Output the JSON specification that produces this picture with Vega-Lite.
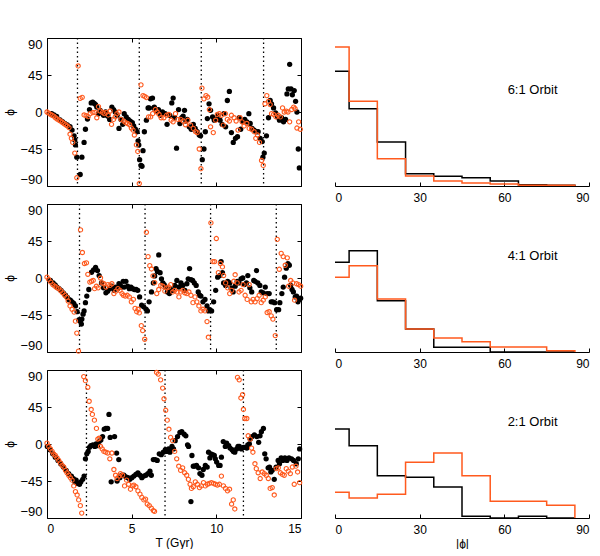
{
  "$schema": "https://vega.github.io/schema/vega-lite/v6.json",
  "padding": {"left": 3, "top": 36, "right": 0, "bottom": 0},
  "background": "white",
  "bounds": "flush",
  "columns": 2,
  "spacing": {"row": 18, "column": 34},
  "config": {
    "font": "Liberation Sans",
    "view": {"stroke": "black", "strokeWidth": 1},
    "axis": {"labelFont": "Liberation Sans", "titleFont": "Liberation Sans", "labelFontSize": 12, "titleFontSize": 12, "titleFontWeight": "normal", "labelColor": "black", "titleColor": "black", "tickColor": "black", "domainColor": "black", "grid": false},
    "axisY": {"labelFontSize": 13}
  },
  "datasets": {
    "p1b": [{"t":0.28,"v":-2},{"t":0.41,"v":-3.6},{"t":0.57,"v":-5.3},{"t":0.77,"v":-9.7},{"t":0.91,"v":-11.8},{"t":1.05,"v":-13.8},{"t":1.2,"v":-15.8},{"t":1.36,"v":-17.8},{"t":1.48,"v":-22},{"t":1.6,"v":-29},{"t":1.64,"v":-34},{"t":1.68,"v":-40},{"t":1.76,"v":-55},{"t":1.96,"v":-76},{"t":2.06,"v":-55},{"t":2.19,"v":-37},{"t":2.27,"v":-21},{"t":2.39,"v":-8.5},{"t":2.51,"v":3},{"t":2.61,"v":11},{"t":2.7,"v":12},{"t":2.79,"v":10.5},{"t":2.87,"v":9},{"t":2.94,"v":6},{"t":3.04,"v":-2},{"t":3.14,"v":2},{"t":3.24,"v":-1},{"t":3.34,"v":-4},{"t":3.46,"v":0},{"t":3.58,"v":-5},{"t":3.7,"v":-9},{"t":3.83,"v":6},{"t":3.93,"v":3},{"t":4.03,"v":0},{"t":4.14,"v":-4},{"t":4.25,"v":-20},{"t":4.37,"v":-9},{"t":4.47,"v":-15},{"t":4.56,"v":-2},{"t":4.68,"v":-6},{"t":4.8,"v":-9},{"t":4.92,"v":-11},{"t":5.04,"v":-13},{"t":5.12,"v":-17},{"t":5.22,"v":-21},{"t":5.32,"v":-24},{"t":5.38,"v":-35},{"t":5.42,"v":-40},{"t":5.47,"v":-58},{"t":5.55,"v":-65},{"t":5.61,"v":-66},{"t":5.67,"v":-47},{"t":5.75,"v":-24},{"t":5.87,"v":-10},{"t":5.97,"v":5},{"t":6.03,"v":5},{"t":6.11,"v":16},{"t":6.23,"v":17},{"t":6.3,"v":5},{"t":6.34,"v":6},{"t":6.46,"v":1},{"t":6.58,"v":3},{"t":6.7,"v":-4},{"t":6.82,"v":0},{"t":6.98,"v":-2},{"t":7.09,"v":-15},{"t":7.25,"v":-4},{"t":7.37,"v":11},{"t":7.45,"v":17},{"t":7.53,"v":-7},{"t":7.65,"v":-44},{"t":7.77,"v":3},{"t":7.85,"v":-14},{"t":7.96,"v":-7},{"t":8.04,"v":-5},{"t":8.12,"v":2},{"t":8.2,"v":-11},{"t":8.28,"v":-9},{"t":8.4,"v":-18},{"t":8.52,"v":-21},{"t":8.64,"v":-15},{"t":8.75,"v":-20},{"t":8.87,"v":-24},{"t":8.99,"v":-28},{"t":9.07,"v":-29},{"t":9.17,"v":-58},{"t":9.27,"v":-45},{"t":9.35,"v":-24},{"t":9.47,"v":-8},{"t":9.57,"v":10},{"t":9.66,"v":2},{"t":9.78,"v":-6},{"t":9.88,"v":-10},{"t":10.02,"v":-9},{"t":10.1,"v":-4},{"t":10.22,"v":-10},{"t":10.34,"v":-15},{"t":10.45,"v":-2},{"t":10.55,"v":-18},{"t":10.65,"v":14},{"t":10.77,"v":25},{"t":10.89,"v":-25},{"t":11.0,"v":-37},{"t":11.13,"v":-32},{"t":11.25,"v":-30},{"t":11.36,"v":-7},{"t":11.44,"v":-21},{"t":11.56,"v":-12},{"t":11.68,"v":-9},{"t":11.8,"v":-12},{"t":11.92,"v":-2},{"t":12.0,"v":-14},{"t":12.11,"v":-20},{"t":12.23,"v":-22},{"t":12.35,"v":-24},{"t":12.47,"v":-24},{"t":12.59,"v":-32},{"t":12.71,"v":-36},{"t":12.75,"v":-55},{"t":12.83,"v":-50},{"t":12.96,"v":-29},{"t":13.08,"v":-7},{"t":13.18,"v":14},{"t":13.26,"v":10},{"t":13.38,"v":5},{"t":13.5,"v":-1},{"t":13.62,"v":-6},{"t":13.73,"v":-10},{"t":13.85,"v":-7},{"t":13.97,"v":-12},{"t":14.09,"v":-9},{"t":14.17,"v":22},{"t":14.25,"v":28},{"t":14.33,"v":58},{"t":14.41,"v":28},{"t":14.49,"v":21},{"t":14.6,"v":26},{"t":14.68,"v":13},{"t":14.76,"v":0},{"t":14.84,"v":-45},{"t":14.9,"v":-68}],
    "p1o": [{"t":0.0,"v":0},{"t":0.1,"v":-1.5},{"t":0.2,"v":-2.8},{"t":0.3,"v":-4},{"t":0.4,"v":-5},{"t":0.5,"v":-7},{"t":0.6,"v":-8.5},{"t":0.7,"v":-10},{"t":0.8,"v":-11},{"t":0.9,"v":-12.5},{"t":1.0,"v":-14},{"t":1.1,"v":-15.5},{"t":1.2,"v":-17},{"t":1.3,"v":-19},{"t":1.36,"v":-27},{"t":1.44,"v":-32},{"t":1.52,"v":-37},{"t":1.64,"v":-50},{"t":1.76,"v":-80},{"t":1.84,"v":56},{"t":1.96,"v":16.6},{"t":2.08,"v":17.8},{"t":2.19,"v":-3.6},{"t":2.31,"v":-4.5},{"t":2.43,"v":-5.7},{"t":2.55,"v":-2},{"t":2.71,"v":-0.8},{"t":2.83,"v":-0.4},{"t":2.94,"v":-7},{"t":3.04,"v":6.5},{"t":3.14,"v":1.2},{"t":3.28,"v":-0.4},{"t":3.38,"v":-2},{"t":3.5,"v":-0.4},{"t":3.62,"v":-3.6},{"t":3.73,"v":1.2},{"t":3.81,"v":-15},{"t":3.93,"v":-9},{"t":4.03,"v":-6},{"t":4.13,"v":-2},{"t":4.25,"v":0},{"t":4.37,"v":-9},{"t":4.53,"v":-11},{"t":4.64,"v":-13},{"t":4.76,"v":-14},{"t":4.88,"v":-15.5},{"t":4.98,"v":-19.5},{"t":5.08,"v":-22},{"t":5.16,"v":-28},{"t":5.28,"v":-40},{"t":5.36,"v":-48},{"t":5.45,"v":-87},{"t":5.55,"v":33},{"t":5.67,"v":20},{"t":5.77,"v":19},{"t":5.87,"v":17.5},{"t":6.0,"v":-6},{"t":6.12,"v":-6},{"t":6.24,"v":-2},{"t":6.4,"v":3},{"t":6.5,"v":0},{"t":6.62,"v":-3},{"t":6.74,"v":-7},{"t":6.9,"v":-7},{"t":7.06,"v":-4},{"t":7.19,"v":-3},{"t":7.33,"v":-10},{"t":7.45,"v":-12},{"t":7.59,"v":-2},{"t":7.73,"v":-9},{"t":7.89,"v":-9},{"t":8.04,"v":-11},{"t":8.18,"v":-15.5},{"t":8.32,"v":-10},{"t":8.48,"v":-16},{"t":8.64,"v":-20},{"t":8.77,"v":-24},{"t":8.87,"v":-25},{"t":8.99,"v":-45},{"t":9.09,"v":-69},{"t":9.15,"v":29},{"t":9.27,"v":16},{"t":9.39,"v":20},{"t":9.49,"v":18},{"t":9.59,"v":3},{"t":9.66,"v":-18},{"t":9.82,"v":-25},{"t":9.96,"v":-10},{"t":10.06,"v":-3},{"t":10.18,"v":-2},{"t":10.3,"v":-4},{"t":10.41,"v":-16},{"t":10.53,"v":-2},{"t":10.65,"v":-9},{"t":10.77,"v":-11},{"t":10.89,"v":-4},{"t":11.05,"v":-7},{"t":11.17,"v":-11},{"t":11.28,"v":-22},{"t":11.4,"v":-7},{"t":11.52,"v":-12},{"t":11.64,"v":-17},{"t":11.8,"v":-14},{"t":11.94,"v":-20},{"t":12.08,"v":-21},{"t":12.23,"v":-24},{"t":12.33,"v":-32},{"t":12.43,"v":-28},{"t":12.55,"v":-37},{"t":12.67,"v":-59},{"t":12.77,"v":-65},{"t":12.87,"v":10},{"t":12.98,"v":20},{"t":13.08,"v":13},{"t":13.18,"v":9},{"t":13.26,"v":-2},{"t":13.38,"v":-3},{"t":13.52,"v":-6},{"t":13.66,"v":-4},{"t":13.78,"v":-6},{"t":13.91,"v":5},{"t":14.01,"v":0},{"t":14.13,"v":1},{"t":14.23,"v":0},{"t":14.33,"v":-12},{"t":14.45,"v":3},{"t":14.57,"v":6},{"t":14.65,"v":4},{"t":14.76,"v":-19.5},{"t":14.86,"v":-12},{"t":14.96,"v":-21}],
    "p2b": [{"t":0.2,"v":-3},{"t":0.36,"v":-6},{"t":0.48,"v":-8.5},{"t":0.59,"v":-11},{"t":0.71,"v":-13},{"t":0.83,"v":-15},{"t":0.96,"v":-18},{"t":1.09,"v":-21},{"t":1.2,"v":-23.5},{"t":1.28,"v":-26},{"t":1.38,"v":-27},{"t":1.48,"v":-29},{"t":1.58,"v":-31},{"t":1.68,"v":-34},{"t":1.78,"v":-41},{"t":1.88,"v":-51},{"t":1.92,"v":-51},{"t":1.98,"v":-53},{"t":2.03,"v":-56},{"t":2.06,"v":-50},{"t":2.13,"v":-44},{"t":2.19,"v":-40},{"t":2.27,"v":-30},{"t":2.35,"v":-22},{"t":2.47,"v":-14},{"t":2.63,"v":7},{"t":2.75,"v":10},{"t":2.87,"v":13},{"t":2.98,"v":9},{"t":3.08,"v":3},{"t":3.22,"v":-6},{"t":3.34,"v":-12},{"t":3.48,"v":-18},{"t":3.58,"v":-16},{"t":3.7,"v":-13},{"t":3.83,"v":-10},{"t":3.97,"v":-15},{"t":4.07,"v":-11},{"t":4.17,"v":-13},{"t":4.25,"v":-7},{"t":4.33,"v":-9},{"t":4.41,"v":-11},{"t":4.5,"v":-4},{"t":4.56,"v":-11},{"t":4.66,"v":-4},{"t":4.76,"v":-10},{"t":4.86,"v":-13},{"t":4.96,"v":-11},{"t":5.06,"v":-13},{"t":5.16,"v":-14},{"t":5.26,"v":-14},{"t":5.36,"v":-15},{"t":5.47,"v":-23},{"t":5.59,"v":-33},{"t":5.71,"v":-35},{"t":5.85,"v":-38},{"t":5.93,"v":-40},{"t":6.03,"v":-29},{"t":6.17,"v":-17},{"t":6.28,"v":-6},{"t":6.36,"v":2.5},{"t":6.44,"v":11.5},{"t":6.52,"v":8},{"t":6.6,"v":28},{"t":6.68,"v":6.5},{"t":6.76,"v":-1},{"t":6.84,"v":-6},{"t":6.92,"v":-8},{"t":7.02,"v":-11},{"t":7.11,"v":-17},{"t":7.23,"v":-19},{"t":7.31,"v":-14},{"t":7.43,"v":-15},{"t":7.55,"v":-9},{"t":7.67,"v":-3},{"t":7.79,"v":-11},{"t":7.91,"v":-6},{"t":8.02,"v":-9},{"t":8.14,"v":-15},{"t":8.26,"v":-7},{"t":8.34,"v":-1},{"t":8.42,"v":11.5},{"t":8.5,"v":-2},{"t":8.6,"v":-3},{"t":8.7,"v":-6},{"t":8.81,"v":-9},{"t":8.93,"v":-17},{"t":9.01,"v":-21},{"t":9.09,"v":-22},{"t":9.21,"v":-29},{"t":9.33,"v":-26},{"t":9.45,"v":-34},{"t":9.53,"v":-40},{"t":9.61,"v":-38.5},{"t":9.72,"v":-40},{"t":9.84,"v":-29},{"t":9.96,"v":-15},{"t":10.08,"v":1},{"t":10.2,"v":3},{"t":10.28,"v":20},{"t":10.36,"v":6.5},{"t":10.43,"v":-6},{"t":10.55,"v":-9},{"t":10.67,"v":-4},{"t":10.79,"v":-6},{"t":10.87,"v":-12},{"t":10.99,"v":-17},{"t":11.11,"v":-10},{"t":11.23,"v":-4},{"t":11.34,"v":-6},{"t":11.46,"v":-1},{"t":11.56,"v":0},{"t":11.66,"v":-8},{"t":11.78,"v":-6},{"t":11.86,"v":3},{"t":11.98,"v":-12},{"t":12.09,"v":-17},{"t":12.21,"v":-3},{"t":12.29,"v":-4},{"t":12.37,"v":9},{"t":12.45,"v":-6},{"t":12.57,"v":-9},{"t":12.65,"v":-17},{"t":12.77,"v":-18},{"t":12.89,"v":-11},{"t":13.0,"v":-19},{"t":13.12,"v":-19},{"t":13.24,"v":-29},{"t":13.34,"v":-29},{"t":13.44,"v":-30},{"t":13.56,"v":-38.5},{"t":13.68,"v":-38.5},{"t":13.75,"v":-30},{"t":13.87,"v":-19},{"t":13.95,"v":-11},{"t":14.03,"v":1},{"t":14.13,"v":12},{"t":14.23,"v":17.6},{"t":14.31,"v":15.5},{"t":14.39,"v":-9},{"t":14.47,"v":-14},{"t":14.55,"v":-17},{"t":14.66,"v":-23},{"t":14.74,"v":-22},{"t":14.82,"v":-29},{"t":14.9,"v":-26},{"t":14.98,"v":-24.5}],
    "p2o": [{"t":0.0,"v":1},{"t":0.1,"v":-1.7},{"t":0.22,"v":-5},{"t":0.34,"v":-8},{"t":0.46,"v":-10},{"t":0.57,"v":-11.7},{"t":0.69,"v":-13},{"t":0.81,"v":-15.5},{"t":0.93,"v":-18},{"t":1.05,"v":-21},{"t":1.17,"v":-23.6},{"t":1.25,"v":-28},{"t":1.36,"v":-34},{"t":1.48,"v":-38},{"t":1.6,"v":-41.5},{"t":1.68,"v":-52.5},{"t":1.76,"v":-67},{"t":1.86,"v":-89},{"t":1.98,"v":58.5},{"t":2.09,"v":31},{"t":2.21,"v":17.6},{"t":2.33,"v":18.4},{"t":2.41,"v":4.5},{"t":2.53,"v":-5},{"t":2.63,"v":-4},{"t":2.73,"v":-3},{"t":2.81,"v":-13},{"t":2.92,"v":-10},{"t":3.02,"v":-12},{"t":3.16,"v":0},{"t":3.26,"v":-6},{"t":3.36,"v":-7},{"t":3.48,"v":-11},{"t":3.6,"v":-8},{"t":3.72,"v":-9},{"t":3.83,"v":-7},{"t":3.95,"v":-19},{"t":4.07,"v":-16},{"t":4.19,"v":-13},{"t":4.31,"v":-15},{"t":4.43,"v":-19},{"t":4.51,"v":-21},{"t":4.62,"v":-22},{"t":4.74,"v":-21},{"t":4.86,"v":-23},{"t":4.98,"v":-29},{"t":5.1,"v":-26},{"t":5.2,"v":-37},{"t":5.3,"v":-41},{"t":5.38,"v":-38},{"t":5.45,"v":-42.5},{"t":5.57,"v":-58},{"t":5.65,"v":-64},{"t":5.77,"v":-74.5},{"t":5.87,"v":55.6},{"t":5.97,"v":26},{"t":6.07,"v":15},{"t":6.17,"v":11},{"t":6.26,"v":2.5},{"t":6.36,"v":-5.7},{"t":6.48,"v":-19},{"t":6.6,"v":-14},{"t":6.72,"v":-9},{"t":6.84,"v":-10},{"t":6.96,"v":-16},{"t":7.08,"v":-12},{"t":7.19,"v":-11},{"t":7.31,"v":-8},{"t":7.43,"v":-17},{"t":7.55,"v":-15},{"t":7.67,"v":-17},{"t":7.79,"v":-23},{"t":7.91,"v":-17},{"t":8.02,"v":-15},{"t":8.14,"v":-18},{"t":8.26,"v":-19},{"t":8.38,"v":-17},{"t":8.5,"v":-21},{"t":8.62,"v":-30},{"t":8.74,"v":-23},{"t":8.85,"v":-29},{"t":8.97,"v":-34},{"t":9.09,"v":-40},{"t":9.21,"v":-38},{"t":9.33,"v":-40},{"t":9.45,"v":-53},{"t":9.53,"v":-72},{"t":9.68,"v":67},{"t":9.8,"v":20},{"t":9.9,"v":20},{"t":10.0,"v":48},{"t":10.12,"v":6.5},{"t":10.24,"v":17.6},{"t":10.36,"v":13.5},{"t":10.43,"v":3},{"t":10.55,"v":-6},{"t":10.67,"v":-12},{"t":10.79,"v":-19},{"t":10.91,"v":-15},{"t":11.03,"v":-4},{"t":11.11,"v":4},{"t":11.23,"v":-6},{"t":11.34,"v":-17},{"t":11.46,"v":-15},{"t":11.58,"v":-8},{"t":11.7,"v":-21},{"t":11.82,"v":-26},{"t":11.94,"v":-8},{"t":12.06,"v":-29},{"t":12.17,"v":-26},{"t":12.29,"v":-29},{"t":12.41,"v":-25},{"t":12.53,"v":-21},{"t":12.65,"v":-30},{"t":12.77,"v":-27},{"t":12.89,"v":-23},{"t":13.0,"v":-42},{"t":13.12,"v":-41},{"t":13.24,"v":-46},{"t":13.34,"v":-50},{"t":13.48,"v":-70},{"t":13.6,"v":47},{"t":13.72,"v":10.6},{"t":13.83,"v":30},{"t":13.95,"v":26},{"t":14.07,"v":15.5},{"t":14.19,"v":24.5},{"t":14.27,"v":-10},{"t":14.39,"v":-3},{"t":14.51,"v":-6},{"t":14.62,"v":-27},{"t":14.74,"v":-7},{"t":14.86,"v":-8},{"t":14.98,"v":-10}],
    "p3b": [{"t":0.02,"v":-3},{"t":0.18,"v":-7},{"t":0.34,"v":-12},{"t":0.49,"v":-16},{"t":0.65,"v":-20},{"t":0.81,"v":-24},{"t":0.97,"v":-28},{"t":1.13,"v":-32},{"t":1.28,"v":-36},{"t":1.44,"v":-39},{"t":1.56,"v":-42},{"t":1.64,"v":-46},{"t":1.72,"v":-44},{"t":1.8,"v":-48},{"t":1.92,"v":-49},{"t":2.0,"v":-46},{"t":2.11,"v":-43},{"t":2.19,"v":-39},{"t":2.27,"v":-18},{"t":2.35,"v":-12},{"t":2.43,"v":-9},{"t":2.51,"v":-4},{"t":2.59,"v":-2},{"t":2.71,"v":-1},{"t":2.82,"v":-3},{"t":2.9,"v":0},{"t":2.98,"v":-2},{"t":3.08,"v":3},{"t":3.18,"v":5},{"t":3.28,"v":9},{"t":3.38,"v":18},{"t":3.48,"v":19},{"t":3.58,"v":19},{"t":3.66,"v":36},{"t":3.73,"v":8},{"t":3.79,"v":-46},{"t":3.99,"v":9},{"t":4.11,"v":-11},{"t":4.24,"v":-19},{"t":4.14,"v":-45},{"t":4.3,"v":-41},{"t":4.42,"v":-38},{"t":4.54,"v":-38},{"t":4.66,"v":-40},{"t":4.78,"v":-41},{"t":4.89,"v":-43},{"t":5.01,"v":-41},{"t":5.13,"v":-39},{"t":5.25,"v":-37},{"t":5.37,"v":-35},{"t":5.49,"v":-38},{"t":5.6,"v":-41},{"t":5.72,"v":-39},{"t":5.84,"v":-38},{"t":5.96,"v":-36},{"t":6.08,"v":-33},{"t":6.16,"v":-38},{"t":6.28,"v":-19},{"t":6.39,"v":-19},{"t":6.51,"v":-20},{"t":6.63,"v":-12},{"t":6.75,"v":-13},{"t":6.87,"v":-10},{"t":6.99,"v":-7},{"t":7.07,"v":-9},{"t":7.18,"v":-6},{"t":7.26,"v":-10},{"t":7.38,"v":-3},{"t":7.47,"v":-6},{"t":7.57,"v":4},{"t":7.71,"v":9},{"t":7.85,"v":14},{"t":7.96,"v":15},{"t":8.1,"v":12},{"t":8.2,"v":10},{"t":8.3,"v":-1},{"t":8.36,"v":-3},{"t":8.5,"v":-70},{"t":8.56,"v":-14},{"t":8.64,"v":-27},{"t":8.71,"v":-27},{"t":8.83,"v":-26},{"t":8.95,"v":-29},{"t":9.03,"v":-36},{"t":9.15,"v":-38},{"t":9.23,"v":-31},{"t":9.35,"v":-26},{"t":9.46,"v":-28},{"t":9.54,"v":-10},{"t":9.62,"v":-17},{"t":9.68,"v":-12},{"t":9.78,"v":-13},{"t":9.88,"v":-14},{"t":9.94,"v":-18},{"t":10.02,"v":-22},{"t":10.14,"v":-26},{"t":10.22,"v":-26},{"t":10.3,"v":-16},{"t":10.41,"v":3},{"t":10.53,"v":-3},{"t":10.61,"v":1},{"t":10.73,"v":-2},{"t":10.81,"v":-5},{"t":10.93,"v":-7},{"t":11.01,"v":-9},{"t":11.09,"v":-10},{"t":11.2,"v":-6},{"t":11.28,"v":-3},{"t":11.36,"v":-3},{"t":11.48,"v":-6},{"t":11.6,"v":-4},{"t":11.68,"v":-4},{"t":11.8,"v":-5},{"t":11.86,"v":-1},{"t":11.95,"v":0},{"t":12.0,"v":6},{"t":12.11,"v":9},{"t":12.25,"v":11},{"t":12.39,"v":9},{"t":12.5,"v":2},{"t":12.58,"v":10},{"t":12.66,"v":15},{"t":12.78,"v":19},{"t":12.86,"v":-12},{"t":12.94,"v":-18},{"t":13.06,"v":-29},{"t":13.14,"v":-28},{"t":13.22,"v":-34},{"t":13.3,"v":-32},{"t":13.42,"v":-43},{"t":13.53,"v":-28},{"t":13.65,"v":-20},{"t":13.73,"v":-24},{"t":13.83,"v":-17},{"t":13.93,"v":-20},{"t":14.05,"v":-17},{"t":14.17,"v":-20},{"t":14.29,"v":-17},{"t":14.44,"v":-18},{"t":14.56,"v":-20},{"t":14.72,"v":-24},{"t":14.84,"v":-18},{"t":14.92,"v":-6}],
    "p3o": [{"t":0.0,"v":1},{"t":0.1,"v":-3},{"t":0.2,"v":-6},{"t":0.3,"v":-9},{"t":0.39,"v":-12},{"t":0.49,"v":-14},{"t":0.59,"v":-17},{"t":0.69,"v":-20},{"t":0.79,"v":-23},{"t":0.89,"v":-26},{"t":0.99,"v":-28},{"t":1.09,"v":-32},{"t":1.18,"v":-35},{"t":1.28,"v":-38},{"t":1.38,"v":-41},{"t":1.48,"v":-44},{"t":1.58,"v":-51},{"t":1.68,"v":-58},{"t":1.78,"v":-62},{"t":1.87,"v":-68},{"t":1.97,"v":-75},{"t":2.05,"v":-84},{"t":2.17,"v":82},{"t":2.27,"v":77},{"t":2.41,"v":69},{"t":2.49,"v":52},{"t":2.61,"v":42},{"t":2.68,"v":36},{"t":2.8,"v":29},{"t":2.92,"v":19},{"t":3.0,"v":6},{"t":3.08,"v":7},{"t":3.16,"v":-3},{"t":3.26,"v":-6},{"t":3.36,"v":-9},{"t":3.47,"v":-10},{"t":3.59,"v":-11},{"t":3.71,"v":-18},{"t":3.83,"v":-11},{"t":3.95,"v":-31},{"t":4.05,"v":-38},{"t":4.14,"v":-42},{"t":4.26,"v":-39},{"t":4.34,"v":-36},{"t":4.46,"v":-38},{"t":4.58,"v":-51},{"t":4.7,"v":-44},{"t":4.82,"v":-49},{"t":4.93,"v":-55},{"t":5.05,"v":-51},{"t":5.13,"v":-50},{"t":5.25,"v":-52},{"t":5.37,"v":-57},{"t":5.49,"v":-61},{"t":5.6,"v":-65},{"t":5.72,"v":-68},{"t":5.82,"v":-67},{"t":5.92,"v":-73},{"t":6.04,"v":-75},{"t":6.16,"v":-78},{"t":6.28,"v":-81},{"t":6.35,"v":-82},{"t":6.47,"v":87},{"t":6.57,"v":85},{"t":6.71,"v":78},{"t":6.83,"v":68},{"t":6.91,"v":55},{"t":7.01,"v":41},{"t":7.1,"v":29},{"t":7.2,"v":18},{"t":7.3,"v":8},{"t":7.42,"v":4},{"t":7.54,"v":-9},{"t":7.66,"v":-18},{"t":7.78,"v":-27},{"t":7.89,"v":-32},{"t":8.01,"v":-29},{"t":8.13,"v":-35},{"t":8.25,"v":-38},{"t":8.35,"v":-43},{"t":8.45,"v":-49},{"t":8.53,"v":-54},{"t":8.64,"v":-52},{"t":8.76,"v":-46},{"t":8.88,"v":-49},{"t":9.0,"v":-53},{"t":9.12,"v":-51},{"t":9.24,"v":-47},{"t":9.35,"v":-51},{"t":9.47,"v":-49},{"t":9.59,"v":-48},{"t":9.71,"v":-47},{"t":9.83,"v":-48},{"t":9.95,"v":-49},{"t":10.06,"v":-50},{"t":10.18,"v":-49},{"t":10.3,"v":-39},{"t":10.42,"v":-51},{"t":10.54,"v":-54},{"t":10.66,"v":-57},{"t":10.78,"v":-55},{"t":10.9,"v":-73},{"t":11.0,"v":-68},{"t":11.09,"v":-79},{"t":11.25,"v":81},{"t":11.35,"v":78},{"t":11.45,"v":56},{"t":11.55,"v":60},{"t":11.6,"v":42},{"t":11.68,"v":31},{"t":11.8,"v":31},{"t":11.88,"v":10},{"t":12.0,"v":6},{"t":12.08,"v":-5},{"t":12.16,"v":-10},{"t":12.28,"v":-24},{"t":12.36,"v":-30},{"t":12.47,"v":-35},{"t":12.59,"v":-42},{"t":12.71,"v":-34},{"t":12.83,"v":-36},{"t":12.95,"v":-38},{"t":13.07,"v":-42},{"t":13.18,"v":-54},{"t":13.3,"v":-53},{"t":13.42,"v":-62},{"t":13.54,"v":-30},{"t":13.66,"v":-29},{"t":13.78,"v":-35},{"t":13.9,"v":-37},{"t":14.01,"v":-38},{"t":14.13,"v":-30},{"t":14.25,"v":-33},{"t":14.37,"v":-36},{"t":14.49,"v":-28},{"t":14.6,"v":-49},{"t":14.7,"v":-27},{"t":14.8,"v":-34},{"t":14.92,"v":-47}],
    "l1": [{"t":1.8},{"t":5.45},{"t":9.11},{"t":12.79}],
    "l2": [{"t":1.92},{"t":5.79},{"t":9.66},{"t":13.54}],
    "l3": [{"t":2.33},{"t":6.97},{"t":11.6}],
    "h1": [{"s":"b","x":0,"f":0.344},{"s":"b","x":5,"f":0.232},{"s":"b","x":15,"f":0.132},{"s":"b","x":25,"f":0.037},{"s":"b","x":35,"f":0.029},{"s":"b","x":45,"f":0.025},{"s":"b","x":55,"f":0.015},{"s":"b","x":65,"f":0.004},{"s":"b","x":75,"f":0.002},{"s":"b","x":85,"f":0},
           {"s":"o","x":0,"f":0.417},{"s":"o","x":5,"f":0.254},{"s":"o","x":15,"f":0.082},{"s":"o","x":25,"f":0.030},{"s":"o","x":35,"f":0.015},{"s":"o","x":45,"f":0.009},{"s":"o","x":55,"f":0.006},{"s":"o","x":65,"f":0.002},{"s":"o","x":75,"f":0.002},{"s":"o","x":85,"f":0}],
    "h2": [{"s":"b","x":0,"f":0.269},{"s":"b","x":5,"f":0.304},{"s":"b","x":15,"f":0.154},{"s":"b","x":25,"f":0.069},{"s":"b","x":35,"f":0.014},{"s":"b","x":45,"f":0.014},{"s":"b","x":55,"f":0},{"s":"b","x":65,"f":0},{"s":"b","x":75,"f":0},{"s":"b","x":85,"f":0},
           {"s":"o","x":0,"f":0.224},{"s":"o","x":5,"f":0.259},{"s":"o","x":15,"f":0.159},{"s":"o","x":25,"f":0.069},{"s":"o","x":35,"f":0.042},{"s":"o","x":45,"f":0.031},{"s":"o","x":55,"f":0.015},{"s":"o","x":65,"f":0.015},{"s":"o","x":75,"f":0.004},{"s":"o","x":85,"f":0}],
    "h3": [{"s":"b","x":0,"f":0.267},{"s":"b","x":5,"f":0.217},{"s":"b","x":15,"f":0.127},{"s":"b","x":25,"f":0.122},{"s":"b","x":35,"f":0.093},{"s":"b","x":45,"f":0.005},{"s":"b","x":55,"f":0},{"s":"b","x":65,"f":0.005},{"s":"b","x":75,"f":0},{"s":"b","x":85,"f":0},
           {"s":"o","x":0,"f":0.077},{"s":"o","x":5,"f":0.06},{"s":"o","x":15,"f":0.071},{"s":"o","x":25,"f":0.167},{"s":"o","x":35,"f":0.195},{"s":"o","x":45,"f":0.127},{"s":"o","x":55,"f":0.05},{"s":"o","x":65,"f":0.05},{"s":"o","x":75,"f":0.038},{"s":"o","x":85,"f":0}]
  },
  "concat": [
      {"width": 254, "height": 148, "resolve": {"axis": {"x": "independent", "y": "independent"}},
       "layer": [
        {"data": {"name": "l1"}, "mark": {"type": "rule", "strokeDash": [1.5, 3], "strokeWidth": 1.3, "color": "black"},
         "encoding": {"x": {"field": "t", "type": "quantitative", "scale": {"domain": [0, 15], "nice": false}, "axis": null}}},
        {"data": {"name": "p1b"}, "mark": {"type": "circle", "size": 28, "color": "black", "opacity": 1},
         "encoding": {"x": {"field": "t", "type": "quantitative", "axis": {"values": [0, 5, 10, 15], "tickSize": -4, "labels": false, "domain": false, "title": null}},
                      "y": {"field": "v", "type": "quantitative", "scale": {"domain": [-90, 90], "nice": false}, "axis": {"values": [-90, -45, 0, 45, 90], "tickSize": -4, "labelPadding": 9, "labelFlush": true, "domain": false, "title": "ϕ", "titlePadding": 3}}}},
        {"data": {"name": "p1o"}, "mark": {"type": "point", "shape": "circle", "size": 18, "filled": false, "color": "#ff5a1e", "strokeWidth": 1.1, "opacity": 1},
         "encoding": {"x": {"field": "t", "type": "quantitative", "axis": {"orient": "top", "values": [0, 5, 10, 15], "tickSize": -4, "labels": false, "domain": false, "title": null}},
                      "y": {"field": "v", "type": "quantitative", "axis": {"orient": "right", "values": [-90, -45, 0, 45, 90], "tickSize": -4, "labels": false, "domain": false, "title": null}}}}
       ]},
      {"width": 254, "height": 148, "view": {"stroke": null},
       "layer": [
        {"data": {"name": "h1"}, "mark": {"type": "line", "interpolate": "step-after", "strokeWidth": 1.5},
         "encoding": {"x": {"field": "x", "type": "quantitative", "scale": {"domain": [0, 90], "nice": false}, "axis": {"values": [0, 30, 60, 90], "tickSize": -4, "labelPadding": 10, "domain": true, "title": null}},
                      "y": {"field": "f", "type": "quantitative", "scale": {"domain": [0, 0.444], "nice": false}, "axis": null},
                      "color": {"field": "s", "type": "nominal", "scale": {"domain": ["b", "o"], "range": ["black", "#ff5a1e"]}, "legend": null}}},
        {"data": {"values": [{"x": 70, "y": 0.288, "label": "6:1 Orbit"}]}, "mark": {"type": "text", "font": "Liberation Sans", "fontSize": 13, "color": "black"},
         "encoding": {"x": {"field": "x", "type": "quantitative"}, "y": {"field": "y", "type": "quantitative"}, "text": {"field": "label"}}}
       ]},
      {"width": 254, "height": 148, "resolve": {"axis": {"x": "independent", "y": "independent"}},
       "layer": [
        {"data": {"name": "l2"}, "mark": {"type": "rule", "strokeDash": [1.5, 3], "strokeWidth": 1.3, "color": "black"},
         "encoding": {"x": {"field": "t", "type": "quantitative", "scale": {"domain": [0, 15], "nice": false}, "axis": null}}},
        {"data": {"name": "p2b"}, "mark": {"type": "circle", "size": 28, "color": "black", "opacity": 1},
         "encoding": {"x": {"field": "t", "type": "quantitative", "axis": {"values": [0, 5, 10, 15], "tickSize": -4, "labels": false, "domain": false, "title": null}},
                      "y": {"field": "v", "type": "quantitative", "scale": {"domain": [-90, 90], "nice": false}, "axis": {"values": [-90, -45, 0, 45, 90], "tickSize": -4, "labelPadding": 9, "labelFlush": true, "domain": false, "title": "ϕ", "titlePadding": 3}}}},
        {"data": {"name": "p2o"}, "mark": {"type": "point", "shape": "circle", "size": 18, "filled": false, "color": "#ff5a1e", "strokeWidth": 1.1, "opacity": 1},
         "encoding": {"x": {"field": "t", "type": "quantitative", "axis": {"orient": "top", "values": [0, 5, 10, 15], "tickSize": -4, "labels": false, "domain": false, "title": null}},
                      "y": {"field": "v", "type": "quantitative", "axis": {"orient": "right", "values": [-90, -45, 0, 45, 90], "tickSize": -4, "labels": false, "domain": false, "title": null}}}}
       ]},
      {"width": 254, "height": 148, "view": {"stroke": null},
       "layer": [
        {"data": {"name": "h2"}, "mark": {"type": "line", "interpolate": "step-after", "strokeWidth": 1.5},
         "encoding": {"x": {"field": "x", "type": "quantitative", "scale": {"domain": [0, 90], "nice": false}, "axis": {"values": [0, 30, 60, 90], "tickSize": -4, "labelPadding": 10, "domain": true, "title": null}},
                      "y": {"field": "f", "type": "quantitative", "scale": {"domain": [0, 0.444], "nice": false}, "axis": null},
                      "color": {"field": "s", "type": "nominal", "scale": {"domain": ["b", "o"], "range": ["black", "#ff5a1e"]}, "legend": null}}},
        {"data": {"values": [{"x": 70, "y": 0.288, "label": "4:1 Orbit"}]}, "mark": {"type": "text", "font": "Liberation Sans", "fontSize": 13, "color": "black"},
         "encoding": {"x": {"field": "x", "type": "quantitative"}, "y": {"field": "y", "type": "quantitative"}, "text": {"field": "label"}}}
       ]},
      {"width": 254, "height": 148, "resolve": {"axis": {"x": "independent", "y": "independent"}},
       "layer": [
        {"data": {"name": "l3"}, "mark": {"type": "rule", "strokeDash": [1.5, 3], "strokeWidth": 1.3, "color": "black"},
         "encoding": {"x": {"field": "t", "type": "quantitative", "scale": {"domain": [0, 15], "nice": false}, "axis": null}}},
        {"data": {"name": "p3b"}, "mark": {"type": "circle", "size": 28, "color": "black", "opacity": 1},
         "encoding": {"x": {"field": "t", "type": "quantitative", "axis": {"values": [0, 5, 10, 15], "tickSize": -4, "labelPadding": 9, "domain": false, "title": "T (Gyr)", "titlePadding": 3}},
                      "y": {"field": "v", "type": "quantitative", "scale": {"domain": [-90, 90], "nice": false}, "axis": {"values": [-90, -45, 0, 45, 90], "tickSize": -4, "labelPadding": 9, "labelFlush": true, "domain": false, "title": "ϕ", "titlePadding": 3}}}},
        {"data": {"name": "p3o"}, "mark": {"type": "point", "shape": "circle", "size": 18, "filled": false, "color": "#ff5a1e", "strokeWidth": 1.1, "opacity": 1},
         "encoding": {"x": {"field": "t", "type": "quantitative", "axis": {"orient": "top", "values": [0, 5, 10, 15], "tickSize": -4, "labels": false, "domain": false, "title": null}},
                      "y": {"field": "v", "type": "quantitative", "axis": {"orient": "right", "values": [-90, -45, 0, 45, 90], "tickSize": -4, "labels": false, "domain": false, "title": null}}}}
       ]},
      {"width": 254, "height": 148, "view": {"stroke": null},
       "layer": [
        {"data": {"name": "h3"}, "mark": {"type": "line", "interpolate": "step-after", "strokeWidth": 1.5},
         "encoding": {"x": {"field": "x", "type": "quantitative", "scale": {"domain": [0, 90], "nice": false}, "axis": {"values": [0, 30, 60, 90], "tickSize": -4, "labelPadding": 10, "domain": true, "title": "|ϕ|", "titlePadding": 3}},
                      "y": {"field": "f", "type": "quantitative", "scale": {"domain": [0, 0.444], "nice": false}, "axis": null},
                      "color": {"field": "s", "type": "nominal", "scale": {"domain": ["b", "o"], "range": ["black", "#ff5a1e"]}, "legend": null}}},
        {"data": {"values": [{"x": 70, "y": 0.288, "label": "2:1 Orbit"}]}, "mark": {"type": "text", "font": "Liberation Sans", "fontSize": 13, "color": "black"},
         "encoding": {"x": {"field": "x", "type": "quantitative"}, "y": {"field": "y", "type": "quantitative"}, "text": {"field": "label"}}}
       ]}
  ]
}
